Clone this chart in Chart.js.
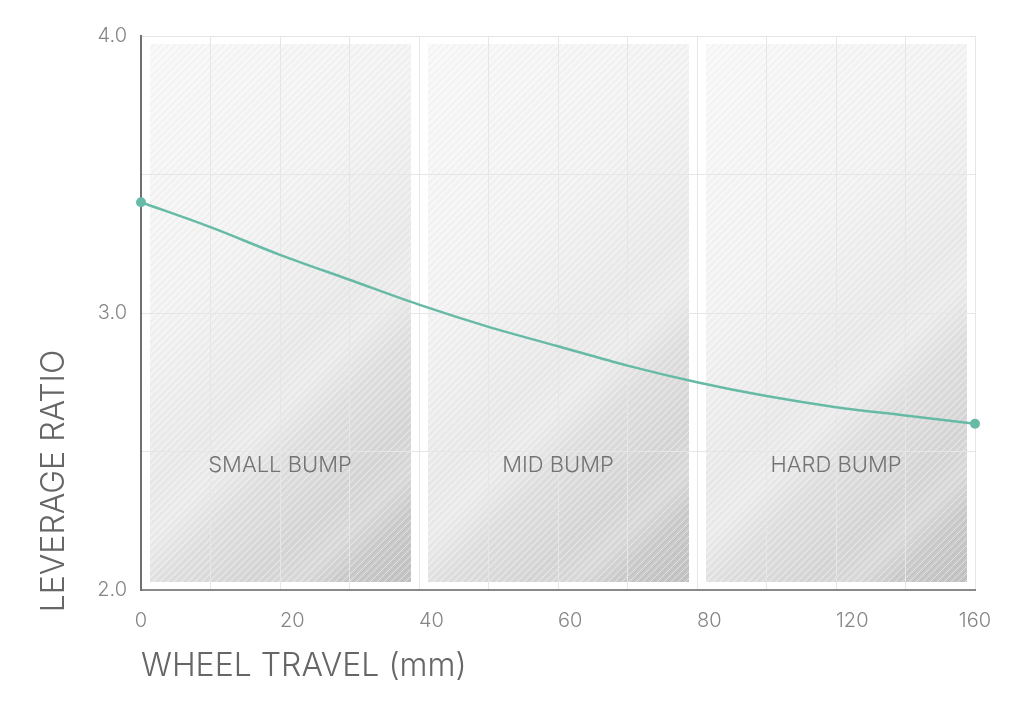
<!DOCTYPE html>
<html><head><meta charset="utf-8">
<script src="https://cdn.jsdelivr.net/npm/chart.js@4"></script>
<style>html,body{margin:0;padding:0;background:#fff}canvas{display:block}</style>
</head><body>
<canvas id="c" width="1024" height="724"></canvas>
<script>
// ---- data ----
const travelLabels = ['0','','20','','40','','60','','80','','120','','160'];
const leverageRatio = [3.40,3.31,3.21,3.12,3.03,2.95,2.88,2.81,2.75,2.70,2.66,2.63,2.60];
const zoneNames = ['SMALL BUMP','MID BUMP','HARD BUMP'];
const zoneStart = [0,4,8];
const zoneEnd = [4,8,12];
const zoneLabelValue = 2.45;
const xTitle = 'WHEEL TRAVEL (mm)';
const yTitle = 'LEVERAGE RATIO';

const FONT = 'Inter, "Noto Sans", sans-serif';
Chart.defaults.font.family = FONT;

function makeHatch(ctx){
  const p = document.createElement('canvas');
  p.width = 7; p.height = 7;
  const c = p.getContext('2d');
  c.strokeStyle = 'rgba(255,255,255,0.45)';
  c.lineWidth = 1;
  c.beginPath(); c.moveTo(-1,8); c.lineTo(8,-1); c.stroke();
  c.strokeStyle = 'rgba(0,0,0,0.035)';
  c.beginPath(); c.moveTo(2,8); c.lineTo(8,2); c.stroke();
  c.beginPath(); c.moveTo(-1,4); c.lineTo(4,-1); c.stroke();
  return ctx.createPattern(p,'repeat');
}

const zonesPlugin = {
  id: 'zones',
  beforeDraw(chart){
    const {ctx, chartArea:a, scales:{x}} = chart;
    const hatch = makeHatch(ctx);
    zoneStart.forEach((s,i)=>{
      const x0 = x.getPixelForValue(s)+9, x1 = x.getPixelForValue(zoneEnd[i])-8;
      const y0 = a.top+8, y1 = a.bottom-8;
      const w = x1-x0, h = y1-y0, d = (w+h)/2;
      const g = ctx.createLinearGradient(x0,y0,x0+d,y0+d);
      g.addColorStop(0,'#f8f8f8');
      g.addColorStop(0.35,'#f3f3f3');
      g.addColorStop(0.55,'#eaeaea');
      g.addColorStop(0.75,'#dbdbdb');
      g.addColorStop(1,'#c2c2c2');
      ctx.save();
      ctx.fillStyle = g; ctx.fillRect(x0,y0,w,h);
      const s2 = ctx.createLinearGradient(x0,y0,x0+d,y0+d);
      s2.addColorStop(0,'rgba(255,255,255,0)');
      s2.addColorStop(0.55,'rgba(255,255,255,0)');
      s2.addColorStop(0.62,'rgba(255,255,255,0.28)');
      s2.addColorStop(0.69,'rgba(255,255,255,0)');
      s2.addColorStop(0.8,'rgba(255,255,255,0)');
      s2.addColorStop(0.86,'rgba(255,255,255,0.22)');
      s2.addColorStop(0.91,'rgba(255,255,255,0)');
      s2.addColorStop(1,'rgba(255,255,255,0)');
      ctx.fillStyle = s2; ctx.fillRect(x0,y0,w,h);
      ctx.fillStyle = hatch; ctx.fillRect(x0,y0,w,h);
      ctx.restore();
    });
  },
  beforeDatasetsDraw(chart){
    const {ctx, scales:{x,y}} = chart;
    ctx.save();
    ctx.font = '300 22px ' + FONT;
    ctx.fillStyle = '#737373';
    ctx.textAlign = 'center'; ctx.textBaseline = 'middle';
    zoneNames.forEach((n,i)=>{
      const cx = (x.getPixelForValue(zoneStart[i]) + x.getPixelForValue(zoneEnd[i]))/2;
      ctx.fillText(n, cx, y.getPixelForValue(zoneLabelValue));
    });
    ctx.restore();
  },
  afterDraw(chart){
    const {ctx, chartArea:a, scales:{x}} = chart;
    ctx.save();
    ctx.font = '300 20px ' + FONT;
    ctx.fillStyle = '#858585';
    ctx.textBaseline = 'middle';
    const last = travelLabels.length-1;
    travelLabels.forEach((l,i)=>{
      if(!l) return;
      ctx.textAlign = (i===0||i===last) ? 'center' : 'left';
      ctx.fillText(l, x.getPixelForValue(i), a.bottom+31);
    });
    // y axis title
    ctx.font = '300 32px ' + FONT;
    ctx.fillStyle = '#666666';
    ctx.translate(54, 481);
    ctx.rotate(-Math.PI/2);
    ctx.textAlign = 'center';
    ctx.fillText(yTitle, 0, 0);
    ctx.restore();
  }
};

const lastIdx = leverageRatio.length-1;
new Chart(document.getElementById('c'), {
  type: 'line',
  data: {
    labels: travelLabels,
    datasets: [{
      data: leverageRatio,
      borderColor: '#67bba6',
      backgroundColor: '#67bba6',
      borderWidth: 2.5,
      pointRadius: c => (c.dataIndex===0||c.dataIndex===lastIdx) ? 5 : 0,
      pointBackgroundColor: '#67bba6',
      pointBorderWidth: 0,
      cubicInterpolationMode: 'monotone',
      fill: false,
      clip: false
    }]
  },
  options: {
    responsive: false,
    animation: false,
    devicePixelRatio: 1,
    layout: {padding: {top: 36, right: 49, left: 0, bottom: 0}},
    plugins: {legend: {display: false}, tooltip: {enabled: false}},
    scales: {
      x: {
        type: 'category',
        offset: false,
        afterFit(s){ s.height = 134; },
        grid: {color: '#e6e6e6', drawTicks: false},
        border: {color: '#8a8a8a', width: 2},
        ticks: {display: false, autoSkip: false},
        title: {display: true, text: xTitle, align: 'start', color: '#666666',
                font: {size: 32, weight: '300'}, padding: {top: 0, bottom: 38}}
      },
      y: {
        min: 2, max: 4,
        afterFit(s){ s.width = 141; },
        grid: {color: '#e6e6e6', drawTicks: false},
        border: {color: '#707070', width: 2},
        ticks: {stepSize: 0.5, padding: 14, color: '#858585', font: {size: 20, weight: '300'},
                callback: v => Number.isInteger(v) ? v.toFixed(1) : ''}
      }
    }
  },
  plugins: [zonesPlugin]
});
</script>
</body></html>
